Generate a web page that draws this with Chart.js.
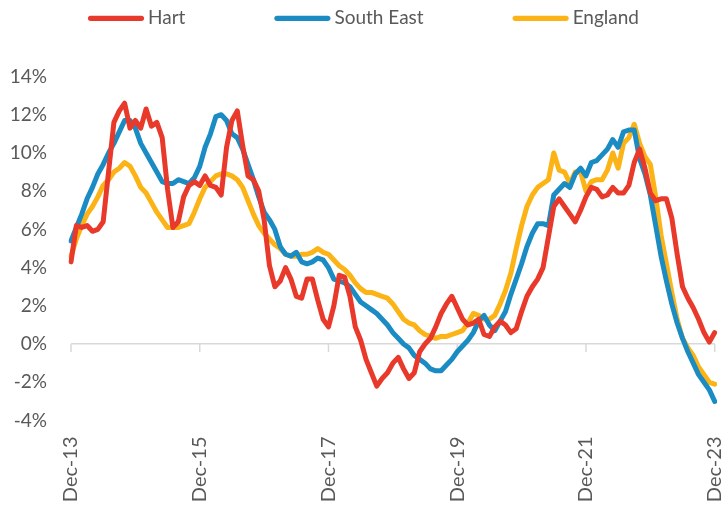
<!DOCTYPE html>
<html>
<head>
<meta charset="utf-8">
<title>House price growth</title>
<script src="https://cdn.jsdelivr.net/npm/chart.js@4/dist/chart.umd.min.js"></script>
<style>
  html, body { margin: 0; padding: 0; background: #fff; }
  #wrap { width: 723px; height: 506px; }
</style>
</head>
<body>
<div id="wrap"><canvas id="chart" width="723" height="506"></canvas></div>
<script>
// ==== Data ====
const monthNames = ["Jan", "Feb", "Mar", "Apr", "May", "Jun", "Jul", "Aug", "Sep", "Oct", "Nov", "Dec"];
const months = [];
for (let k = 0; k <= 120; k++) {
  months.push(monthNames[(11 + k) % 12] + "-" + (13 + Math.floor((11 + k) / 12)));
}
const tickLabels = ["Dec-13", "Dec-15", "Dec-17", "Dec-19", "Dec-21", "Dec-23"];

const hart = [
  4.3, 6.2, 6.1, 6.2, 5.9, 6.0, 6.4, 9.0, 11.6, 12.2,
  12.6, 11.3, 11.7, 11.3, 12.3, 11.4, 11.6, 10.8, 8.1, 6.1,
  6.4, 7.7, 8.3, 8.5, 8.3, 8.8, 8.3, 8.2, 7.8, 10.3,
  11.7, 12.2, 10.4, 8.8, 8.6, 8.0, 6.5, 4.1, 3.0, 3.3,
  4.0, 3.4, 2.5, 2.4, 3.4, 3.4, 2.3, 1.3, 0.9, 2.0,
  3.6, 3.5, 2.5, 0.9, 0.2, -0.8, -1.5, -2.2, -1.8, -1.5,
  -1.0, -0.7, -1.3, -1.8, -1.5, -0.4, 0.0, 0.3, 0.9, 1.6,
  2.1, 2.5, 1.9, 1.3, 1.0, 1.1, 1.3, 0.5, 0.4, 0.9,
  1.2, 1.0, 0.6, 0.8, 1.7, 2.5, 3.0, 3.4, 4.0, 5.6,
  7.2, 7.6, 7.2, 6.8, 6.4, 7.0, 7.7, 8.2, 8.1, 7.7,
  7.8, 8.2, 7.9, 7.9, 8.3, 9.5, 10.2, 9.2, 7.9, 7.5,
  7.6, 7.6, 6.6, 4.7, 3.0, 2.4, 1.9, 1.3, 0.6, 0.1,
  0.6
];
const southEast = [
  5.4, 6.1, 6.8, 7.6, 8.2, 8.9, 9.4, 10.0, 10.5, 11.1,
  11.7, 11.7, 11.3, 10.5, 10.0, 9.5, 9.0, 8.5, 8.4, 8.4,
  8.6, 8.5, 8.4, 8.7, 9.3, 10.3, 11.0, 11.9, 12.0, 11.7,
  11.0, 10.8, 10.2, 9.4, 8.6, 7.7, 6.9, 6.5, 6.0, 5.1,
  4.7, 4.6, 4.8, 4.3, 4.2, 4.3, 4.5, 4.4, 4.0, 3.4,
  3.3, 3.2, 3.0, 2.6, 2.2, 2.0, 1.8, 1.6, 1.3, 1.0,
  0.6, 0.3, 0.0, -0.2, -0.6, -0.8, -1.0, -1.3, -1.4, -1.4,
  -1.1, -0.8, -0.4, -0.1, 0.2, 0.6, 1.2, 1.5, 1.0, 0.7,
  1.2, 1.7, 2.6, 3.4, 4.2, 5.1, 5.8, 6.3, 6.3, 6.2,
  7.8, 8.1, 8.4, 8.2, 8.9, 9.2, 8.8, 9.5, 9.6, 9.9,
  10.2, 10.7, 10.3, 11.1, 11.2, 11.2, 9.7, 8.9, 7.8, 6.2,
  4.6, 3.3, 2.1, 1.1, 0.3, -0.4, -1.0, -1.6, -2.0, -2.4,
  -3.0
];
const england = [
  4.6, 5.5, 6.2, 6.8, 7.2, 7.7, 8.3, 8.6, 9.0, 9.2,
  9.5, 9.3, 8.8, 8.2, 7.9, 7.4, 6.9, 6.5, 6.1, 6.1,
  6.1, 6.2, 6.3, 6.9, 7.6, 8.2, 8.5, 8.8, 8.9, 8.9,
  8.8, 8.6, 8.2, 7.5, 6.8, 6.2, 5.8, 5.5, 5.2, 5.0,
  4.7, 4.6, 4.6, 4.7, 4.7, 4.8, 5.0, 4.8, 4.7, 4.4,
  4.1, 3.9, 3.6, 3.2, 2.9, 2.7, 2.7, 2.6, 2.5, 2.4,
  2.1, 1.7, 1.3, 1.1, 1.0, 0.7, 0.5, 0.4, 0.3, 0.4,
  0.4, 0.5, 0.6, 0.7, 1.1, 1.6, 1.5, 1.3, 1.3, 1.5,
  2.1, 2.8, 3.7, 5.0, 6.2, 7.2, 7.8, 8.2, 8.4, 8.6,
  10.0, 9.1, 9.0, 8.4, 9.0, 9.0, 8.0, 8.5, 8.6, 8.6,
  9.1, 10.0, 9.2, 10.5, 10.8, 11.5, 10.5, 9.8, 9.4, 7.7,
  5.7, 4.2, 2.7, 1.3, 0.3, -0.2, -0.6, -1.2, -1.6, -2.0,
  -2.1
];

const seriesNames = ["Hart", "South East", "England"];
const seriesColors = ["#E8392A", "#1B8BC4", "#FCB316"];
const yMin = -4, yMax = 14, yStep = 2;

const textColor = "#595959";
const fontFamily = "Lato, 'Open Sans', sans-serif";

// ==== Legend drawn along the top ====
const topLegend = {
  id: "topLegend",
  afterDraw(chart) {
    const ctx = chart.ctx;
    const y = 18.3;
    const lineLength = 56;
    let x = 88;
    ctx.save();
    ctx.font = "19px " + fontFamily;
    ctx.textBaseline = "middle";
    ctx.textAlign = "left";
    chart.data.datasets.forEach(ds => {
      ctx.beginPath();
      ctx.lineWidth = 5.3;
      ctx.lineCap = "round";
      ctx.strokeStyle = ds.borderColor;
      ctx.moveTo(x + 2.6, y);
      ctx.lineTo(x + lineLength - 2.6, y);
      ctx.stroke();
      ctx.fillStyle = textColor;
      ctx.fillText(ds.label, x + lineLength + 4, y);
      x += lineLength + 4 + ctx.measureText(ds.label).width + 89;
    });
    ctx.restore();
  }
};

// ==== Small tick marks hanging off the 0% line ====
const zeroTicks = {
  id: "zeroTicks",
  beforeDatasetsDraw(chart) {
    const { ctx, scales: { x, y } } = chart;
    const y0 = y.getPixelForValue(0);
    ctx.save();
    ctx.strokeStyle = "#d9d9d9";
    ctx.lineWidth = 1.5;
    months.forEach((m, i) => {
      if (!tickLabels.includes(m)) return;
      const px = x.getPixelForValue(i);
      ctx.beginPath();
      ctx.moveTo(px, y0);
      ctx.lineTo(px, y0 + 8);
      ctx.stroke();
    });
    ctx.restore();
  }
};

const values = [hart, southEast, england];

new Chart(document.getElementById("chart").getContext("2d"), {
  type: "line",
  data: {
    labels: months,
    datasets: values.map((data, i) => ({
      label: seriesNames[i],
      data: data,
      borderColor: seriesColors[i],
      backgroundColor: seriesColors[i],
      borderWidth: 5,
      pointRadius: 0,
      tension: 0,
      borderCapStyle: "round",
      borderJoinStyle: "round",
      fill: false
    }))
  },
  options: {
    responsive: false,
    animation: false,
    layout: { padding: { top: 76.5, right: 8.3, bottom: 0, left: 0 } },
    plugins: {
      legend: { display: false },
      tooltip: { enabled: false }
    },
    scales: {
      x: {
        grid: { display: false, drawTicks: false },
        border: { display: false },
        ticks: {
          autoSkip: false,
          minRotation: 90,
          maxRotation: 90,
          padding: 16,
          color: textColor,
          font: { family: fontFamily, size: 20 },
          callback: function (value) {
            const lab = this.getLabelForValue(value);
            return tickLabels.includes(lab) ? lab : "";
          }
        },
        afterFit: scale => {
          scale.height = 85.5;
          scale.paddingLeft = 0;
          scale.paddingRight = 0;
        }
      },
      y: {
        min: yMin,
        max: yMax,
        border: { display: false },
        grid: {
          drawTicks: false,
          lineWidth: 1.5,
          color: c => (c.tick && c.tick.value === 0 ? "#d9d9d9" : "rgba(0,0,0,0)")
        },
        ticks: {
          stepSize: yStep,
          padding: 24,
          color: textColor,
          font: { family: fontFamily, size: 19 },
          callback: v => v + "%"
        },
        afterFit: scale => { scale.width = 71; }
      }
    }
  },
  plugins: [topLegend, zeroTicks]
});
</script>
</body>
</html>
